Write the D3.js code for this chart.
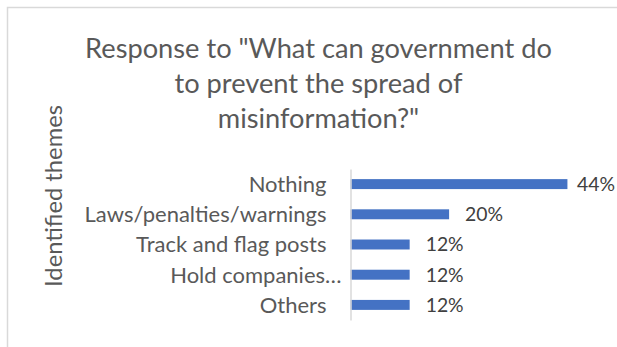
<!DOCTYPE html>
<html>
<head>
<meta charset="utf-8">
<script src="https://cdn.jsdelivr.net/npm/d3@7"></script>
<style>
  html, body { margin: 0; padding: 0; background: #fff; }
  svg { display: block; }
</style>
</head>
<body>
<svg id="chart" width="617" height="347"></svg>
<script>
// Survey answers, one bar per theme (percent of respondents)
const categories = ["Nothing", "Laws/penalties/warnings", "Track and flag posts", "Hold companies…", "Others"];
const values = [44, 20, 12, 12, 12];
const titleLines = ["Response to \"What can government do", "to prevent the spread of", "misinformation?\""];
const axisTitle = "Identified themes";

const FONT = "Lato, 'Open Sans', sans-serif";
const svg = d3.select("#chart");

// Pick a font size so that a string spans the wanted width
function fitSize(text, target) {
  const t = svg.append("text").attr("font-family", FONT).attr("font-size", 100).text(text);
  const w = t.node().getComputedTextLength();
  t.remove();
  return 100 * target / w;
}

// Chart frame
svg.append("rect")
  .attr("x", 7.5).attr("y", 7.5)
  .attr("width", 640).attr("height", 360)
  .attr("fill", "#fff").attr("stroke", "#d9d9d9").attr("stroke-width", 1.5);

// Title
const titleSize = fitSize(titleLines[0], 467);
const title = svg.append("text")
  .attr("font-family", FONT).attr("font-size", titleSize)
  .attr("fill", "#595959").attr("text-anchor", "middle");
titleLines.forEach((line, i) => {
  title.append("tspan").attr("x", 318.5).attr("y", 58 + i * 35).text(line);
});

// Scales
const plotLeft = 350.5, plotRight = 597, plotTop = 169, plotBottom = 320;
const x = d3.scaleLinear().domain([0, 50]).range([plotLeft, plotRight]);
const y = d3.scaleBand().domain(categories).range([plotTop, plotBottom])
  .paddingInner(0.67).paddingOuter(0.335);

// Bars
svg.append("g").selectAll("rect")
  .data(categories.map((c, i) => ({ c, v: values[i] })))
  .join("rect")
  .attr("x", x(0))
  .attr("y", d => y(d.c))
  .attr("width", d => x(d.v) - x(0))
  .attr("height", y.bandwidth())
  .attr("fill", "#4472c4");

// Category axis
const catSize = fitSize("Laws/penalties/warnings", 242);
const axis = svg.append("g")
  .attr("transform", `translate(${plotLeft},0)`)
  .call(d3.axisLeft(y).tickSize(0).tickPadding(24));
axis.select(".domain").attr("stroke", "#d9d9d9").attr("stroke-width", 1.5);
axis.selectAll(".tick text")
  .attr("font-family", FONT).attr("font-size", catSize)
  .attr("fill", "#595959")
  .attr("dy", "0.36em")
  .attr("x", d => d.endsWith("…") ? -9 : -24);

// Value labels
const valSize = fitSize("12%", 38);
const labelMaxX = 577;
svg.append("g").selectAll("text")
  .data(categories.map((c, i) => ({ c, v: values[i] })))
  .join("text")
  .attr("font-family", FONT).attr("font-size", valSize)
  .attr("fill", "#404040")
  .attr("x", d => Math.min(x(d.v) + 16, labelMaxX))
  .attr("y", d => y(d.c) + y.bandwidth() / 2)
  .attr("dy", "0.36em")
  .text(d => d.v + "%");

// Axis title
const axSize = fitSize(axisTitle, 182);
svg.append("text")
  .attr("font-family", FONT).attr("font-size", axSize)
  .attr("fill", "#595959").attr("text-anchor", "middle")
  .attr("transform", "translate(62,196) rotate(-90)")
  .text(axisTitle);
</script>
</body>
</html>
